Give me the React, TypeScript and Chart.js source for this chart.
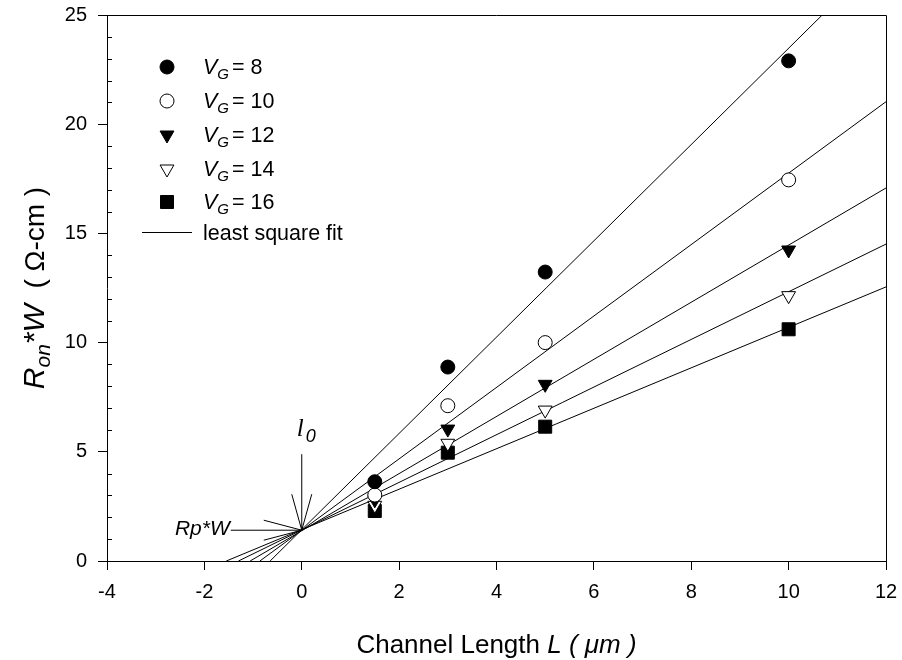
import React, { useEffect, useRef } from "react";
import { Chart, registerables } from "chart.js";

Chart.register(...registerables);

// ---- data ----
const channelLengths = [1.5, 3, 5, 10];
const vg8 = [3.63, 8.88, 13.23, 22.9];
const vg10 = [3.02, 7.11, 10.0, 17.45];
const vg12 = [2.8, 6.04, 8.09, 14.24];
const vg14 = [2.55, 5.39, 6.91, 12.15];
const vg16 = [2.29, 4.96, 6.15, 10.61];
const seriesLabels = ["8", "10", "12", "14", "16"];

// least-square-fit line end points (x at R=0, and far end)
const fitStart = [
  [-0.65, 0],
  [-0.86, 0],
  [-1.06, 0],
  [-1.3, 0],
  [-1.55, 0],
];
const fitEnd = [
  [10.69, 25],
  [12, 21.03],
  [12, 17.08],
  [12, 14.51],
  [12, 12.55],
];

// convergence point (l0, Rp*W)
const convergePoint = [0, 1.41];

const xTicksRange = [-4, 12];
const yTicksRange = [0, 25];

const SANS = "'Liberation Sans', Arial, sans-serif";
const SERIF = "'Liberation Serif', 'Times New Roman', serif";

type Run = { text: string; font: string; dy?: number; dx?: number };

function drawRuns(ctx: CanvasRenderingContext2D, runs: Run[], x: number, y: number, align: "left" | "center" | "right") {
  let total = 0;
  const widths = runs.map((r) => {
    ctx.font = r.font;
    const w = ctx.measureText(r.text).width + (r.dx || 0);
    total += w;
    return w;
  });
  let cx = x;
  if (align === "center") cx = x - total / 2;
  if (align === "right") cx = x - total;
  ctx.textBaseline = "alphabetic";
  ctx.textAlign = "left";
  runs.forEach((r, i) => {
    ctx.font = r.font;
    ctx.fillText(r.text, cx + (r.dx || 0), y + (r.dy || 0));
    cx += widths[i];
  });
}

function marker(ctx: CanvasRenderingContext2D, kind: number, x: number, y: number) {
  ctx.save();
  ctx.lineWidth = 1;
  ctx.strokeStyle = "#000";
  ctx.beginPath();
  if (kind === 0 || kind === 1) {
    ctx.arc(x, y, 7, 0, Math.PI * 2);
  } else if (kind === 2 || kind === 3) {
    const r = 8;
    ctx.moveTo(x, y + r);
    ctx.lineTo(x - r * 0.866, y - r * 0.5);
    ctx.lineTo(x + r * 0.866, y - r * 0.5);
    ctx.closePath();
  } else {
    ctx.rect(x - 6.5, y - 6.5, 13, 13);
  }
  ctx.fillStyle = kind === 1 || kind === 3 ? "#fff" : "#000";
  ctx.fill();
  ctx.stroke();
  ctx.restore();
}

const decorPlugin = {
  id: "decor",
  afterDraw(chart: any) {
    const ctx: CanvasRenderingContext2D = chart.ctx;
    const { left, right, top, bottom } = chart.chartArea;
    const xs = chart.scales.x;
    const ys = chart.scales.y;
    ctx.save();
    ctx.strokeStyle = "#000";
    ctx.fillStyle = "#000";
    ctx.lineWidth = 1;
    // frame top & right
    ctx.beginPath();
    ctx.moveTo(left, Math.round(top) + 0.5);
    ctx.lineTo(Math.round(right) + 0.5, Math.round(top) + 0.5);
    ctx.lineTo(Math.round(right) + 0.5, bottom);
    ctx.stroke();
    // minor y ticks inward
    ctx.beginPath();
    for (let v = yTicksRange[0] + 1; v < yTicksRange[1]; v++) {
      if (v % 5 === 0) continue;
      const py = Math.round(ys.getPixelForValue(v)) + 0.5;
      ctx.moveTo(left, py);
      ctx.lineTo(left + 5, py);
    }
    ctx.stroke();

    // annotations
    const tx = xs.getPixelForValue(convergePoint[0]);
    const ty = ys.getPixelForValue(convergePoint[1]);
    ctx.beginPath();
    // l0 arrow
    ctx.moveTo(tx, ty - 76);
    ctx.lineTo(tx, ty);
    ctx.moveTo(tx - 10, ty - 36);
    ctx.lineTo(tx, ty);
    ctx.lineTo(tx + 10, ty - 36);
    // Rp*W arrow
    ctx.moveTo(tx - 71, ty);
    ctx.lineTo(tx, ty);
    ctx.moveTo(tx - 38, ty - 10);
    ctx.lineTo(tx, ty);
    ctx.lineTo(tx - 38, ty + 10);
    ctx.stroke();

    drawRuns(ctx, [
      { text: "l", font: `italic 25px ${SERIF}` },
      { text: "0", font: `italic 18px ${SANS}`, dy: 6, dx: 2 },
    ], tx - 5, ty - 94, "left");
    drawRuns(ctx, [{ text: "Rp*W", font: `italic 21px ${SANS}` }], tx - 72, ty + 5, "right");

    // legend
    const lx = 167;
    const rows = [67, 101, 135, 169, 202];
    rows.forEach((ry, i) => {
      marker(ctx, i, lx, ry);
      drawRuns(ctx, [
        { text: "V", font: `italic 21.5px ${SANS}` },
        { text: "G", font: `italic 15px ${SANS}`, dy: 5 },
        { text: "= " + seriesLabels[i], font: `21.5px ${SANS}`, dx: 3 },
      ], 203, ry + 7, "left");
    });
    ctx.beginPath();
    ctx.moveTo(142, 232.5);
    ctx.lineTo(192, 232.5);
    ctx.stroke();
    drawRuns(ctx, [{ text: "least square fit", font: `21.5px ${SANS}` }], 203, 240, "left");

    // x title
    drawRuns(ctx, [
      { text: "Channel Length ", font: `26px ${SANS}` },
      { text: "L ( ", font: `italic 26px ${SANS}` },
      { text: "\u03bcm )", font: `italic 26px ${SANS}` },
    ], (left + right) / 2, 653, "center");

    // y title
    ctx.save();
    ctx.translate(44, (top + bottom) / 2);
    ctx.rotate(-Math.PI / 2);
    drawRuns(ctx, [
      { text: "R", font: `italic 30px ${SANS}` },
      { text: "on", font: `italic 21px ${SANS}`, dy: 6 },
      { text: "*W", font: `italic 30px ${SANS}` },
      { text: "  ( \u03a9-cm )", font: `28px ${SANS}` },
    ], 0, 0, "center");
    ctx.restore();
    ctx.restore();
  },
};

export default function App() {
  const ref = useRef<HTMLCanvasElement>(null);
  useEffect(() => {
    if (!ref.current) return;
    const series = [vg8, vg10, vg12, vg14, vg16];
    const styles = [
      { pointStyle: "circle", radius: 7, bg: "#000", rot: 0 },
      { pointStyle: "circle", radius: 7, bg: "#fff", rot: 0 },
      { pointStyle: "triangle", radius: 8, bg: "#000", rot: 180 },
      { pointStyle: "triangle", radius: 8, bg: "#fff", rot: 180 },
      { pointStyle: "rect", radius: 9.2, bg: "#000", rot: 0 },
    ];
    const datasets: any[] = [];
    series.forEach((vals, i) => {
      const s = styles[i];
      datasets.push({
        type: "scatter",
        label: "VG=" + seriesLabels[i],
        data: channelLengths.map((x, j) => ({ x, y: vals[j] })),
        pointStyle: s.pointStyle,
        pointRadius: s.radius,
        pointRotation: s.rot,
        pointBackgroundColor: s.bg,
        pointBorderColor: "#000",
        pointBorderWidth: 1,
        showLine: false,
        order: 0,
      });
    });
    fitStart.forEach((p, i) => {
      datasets.push({
        type: "line",
        label: "fit" + i,
        data: [
          { x: p[0], y: p[1] },
          { x: fitEnd[i][0], y: fitEnd[i][1] },
        ],
        borderColor: "#000",
        borderWidth: 1,
        pointRadius: 0,
        fill: false,
        tension: 0,
        order: 10,
      });
    });
    const chart = new Chart(ref.current, {
      type: "scatter",
      data: { datasets },
      options: {
        responsive: false,
        animation: false,
        devicePixelRatio: 1,
        layout: { padding: { top: 15, right: 16, left: 0, bottom: 0 } },
        plugins: { legend: { display: false }, tooltip: { enabled: false } },
        scales: {
          x: {
            type: "linear",
            min: xTicksRange[0],
            max: xTicksRange[1],
            ticks: { stepSize: 2, color: "#000", font: { family: SANS, size: 20 }, padding: 10 },
            grid: { drawOnChartArea: false, drawTicks: true, tickLength: 9, tickColor: "#000", color: "#000" },
            border: { display: true, color: "#000", width: 1 },
            afterFit: (s: any) => { s.height = 99; s.paddingLeft = 0; s.paddingRight = 0; },
          },
          y: {
            type: "linear",
            min: yTicksRange[0],
            max: yTicksRange[1],
            ticks: { stepSize: 5, color: "#000", font: { family: SANS, size: 20 }, padding: 11 },
            grid: { drawOnChartArea: false, drawTicks: true, tickLength: 9, tickColor: "#000", color: "#000" },
            border: { display: true, color: "#000", width: 1 },
            afterFit: (s: any) => { s.width = 107; s.paddingTop = 0; s.paddingBottom = 0; },
          },
        },
      } as any,
      plugins: [decorPlugin],
    });
    return () => chart.destroy();
  }, []);
  return (
    <div style={{ position: "fixed", left: 0, top: 0, width: 902, height: 660, background: "#fff" }}>
      <canvas ref={ref} width={902} height={660} style={{ width: 902, height: 660, display: "block" }} />
    </div>
  );
}
